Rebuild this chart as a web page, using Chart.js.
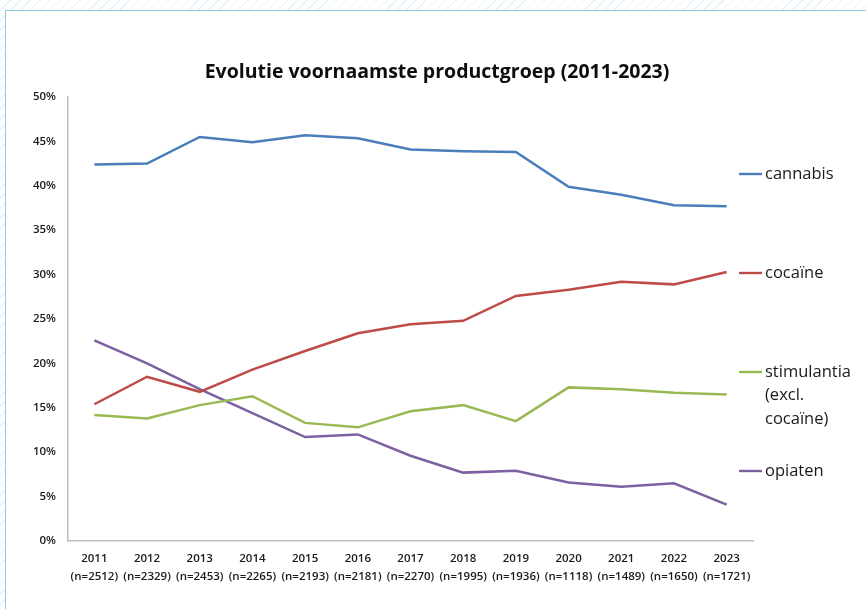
<!DOCTYPE html>
<html>
<head>
<meta charset="utf-8">
<script src="https://cdn.jsdelivr.net/npm/chart.js@4/dist/chart.umd.min.js"></script>
<style>
  html, body { margin: 0; padding: 0; }
  body {
    width: 866px; height: 609px; overflow: hidden; position: relative;
    background: repeating-linear-gradient(-45deg, #ffffff 0px, #ffffff 6px, #e6f2f9 6px, #e6f2f9 7px);
  }
  #frame {
    position: absolute; left: 5px; top: 10px; width: 900px; height: 640px;
    background: #fff; border: 1.5px solid #8fcbe8; box-sizing: border-box;
  }
  #wrap { position: absolute; left: 0; top: 0; width: 866px; height: 609px; }
</style>
</head>
<body>
<div id="frame"></div>
<div id="wrap"><canvas id="chart" width="866" height="609"></canvas></div>
<script>
// Evolutie voornaamste productgroep (2011-2023)
const years = ['2011', '2012', '2013', '2014', '2015', '2016', '2017', '2018', '2019', '2020', '2021', '2022', '2023'];
const sampleSizes = ['2512', '2329', '2453', '2265', '2193', '2181', '2270', '1995', '1936', '1118', '1489', '1650', '1721'];

const cannabis = [42.4, 42.5, 45.5, 44.9, 45.7, 45.35, 44.1, 43.9, 43.8, 39.9, 39.0, 37.8, 37.7];
const cocaine = [15.4, 18.5, 16.8, 19.3, 21.4, 23.4, 24.4, 24.8, 27.6, 28.3, 29.2, 28.9, 30.3];
const stimulantia = [14.2, 13.8, 15.3, 16.3, 13.3, 12.8, 14.6, 15.3, 13.5, 17.3, 17.1, 16.7, 16.5];
const opiaten = [22.6, 20.0, 17.1, 14.4, 11.7, 12.0, 9.6, 7.7, 7.9, 6.6, 6.1, 6.5, 4.1];

const seriesNames = ['cannabis', 'cocaïne', ['stimulantia', '(excl.', 'cocaïne)'], 'opiaten'];
const seriesColors = ['#4a7ebb', '#be4b48', '#98b954', '#7d60a0'];

const FONT = "'Open Sans', 'DejaVu Sans', sans-serif";

// title + right-hand legend like the Excel original
const decorPlugin = {
  id: 'decor',
  afterDraw(chart) {
    const ctx = chart.ctx;
    const area = chart.chartArea;
    ctx.save();
    ctx.fillStyle = '#0d0d0d';
    ctx.font = `bold 19.5px ${FONT}`;
    ctx.textAlign = 'center';
    ctx.textBaseline = 'middle';
    ctx.fillText('Evolutie voornaamste productgroep (2011-2023)', 437, 72);

    ctx.font = `16.5px ${FONT}`;
    ctx.textAlign = 'left';
    ctx.fillStyle = '#1a1a1a';
    const x0 = area.right - 14;
    chart.data.datasets.forEach((ds, i) => {
      const y = area.top + 77 + i * 99;
      ctx.strokeStyle = ds.borderColor;
      ctx.lineWidth = 2.4;
      ctx.beginPath();
      ctx.moveTo(x0, y);
      ctx.lineTo(x0 + 23, y);
      ctx.stroke();
      const lines = Array.isArray(seriesNames[i]) ? seriesNames[i] : [seriesNames[i]];
      lines.forEach((t, j) => ctx.fillText(t, x0 + 26, y + j * 23.5));
    });
    ctx.restore();
  }
};

const allSeries = [cannabis, cocaine, stimulantia, opiaten];

new Chart(document.getElementById('chart'), {
  type: 'line',
  data: {
    labels: years.map((y, i) => [y, '(n=' + sampleSizes[i] + ')']),
    datasets: allSeries.map((d, i) => ({
      label: Array.isArray(seriesNames[i]) ? seriesNames[i].join(' ') : seriesNames[i],
      data: d,
      borderColor: seriesColors[i],
      borderWidth: 2.5,
      pointRadius: 0,
      tension: 0,
      fill: false
    }))
  },
  options: {
    responsive: false,
    animation: false,
    devicePixelRatio: 1,
    layout: { padding: { top: 97, right: 113, bottom: 0, left: 0 } },
    plugins: {
      legend: { display: false },
      title: { display: false },
      tooltip: { enabled: false }
    },
    scales: {
      x: {
        offset: true,
        grid: { display: false, drawTicks: false },
        border: { display: true, color: '#bfbfbf', width: 1.5 },
        ticks: {
          autoSkip: false,
          maxRotation: 0,
          padding: 9,
          color: '#1a1a1a',
          font: { family: FONT, size: 11.5, weight: '600', lineHeight: 1.55 }
        },
        afterFit(scale) { scale.height = 68; }
      },
      y: {
        min: 0,
        max: 50,
        grid: { display: false, drawTicks: false },
        border: { display: true, color: '#bfbfbf', width: 1.5 },
        ticks: {
          stepSize: 5,
          padding: 12,
          color: '#1a1a1a',
          font: { family: FONT, size: 11.5, weight: '600' },
          callback: (v) => v + '%'
        },
        afterFit(scale) { scale.width = 68; }
      }
    }
  },
  plugins: [decorPlugin]
});
</script>
</body>
</html>
